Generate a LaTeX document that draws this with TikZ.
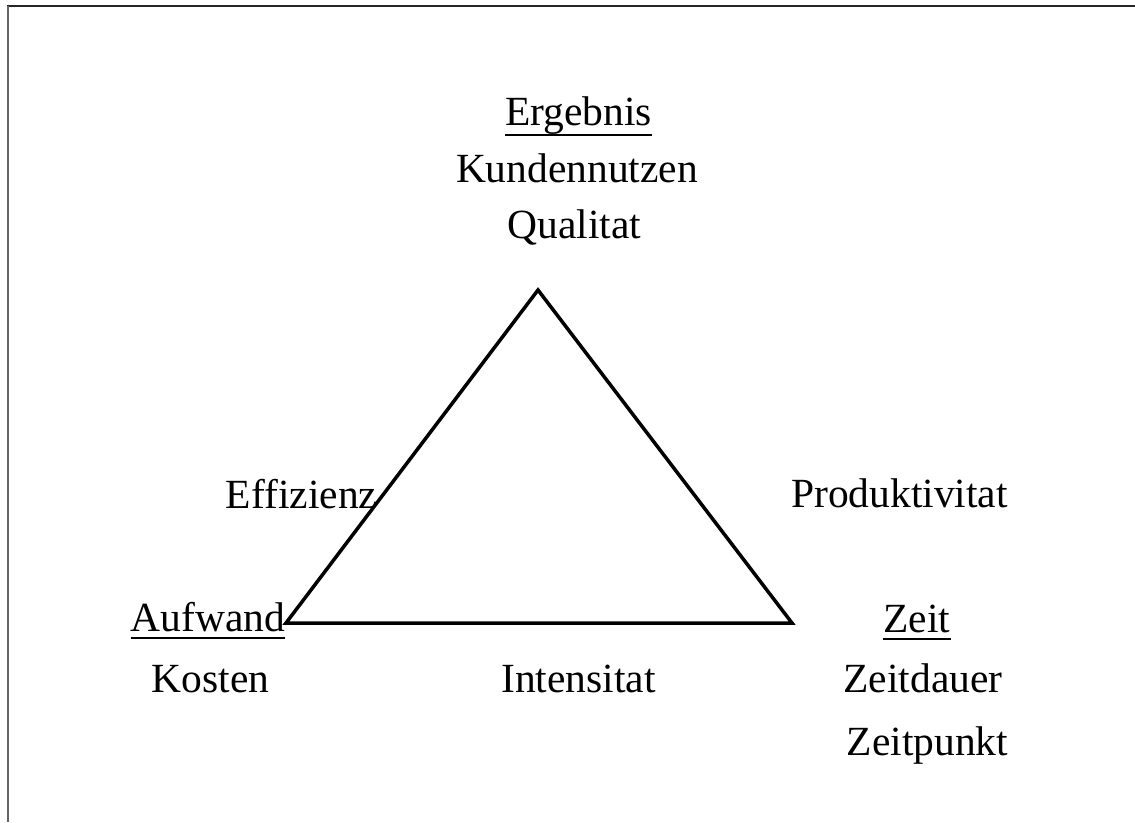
\documentclass[tikz,border=0pt]{standalone}
\usepackage{fontspec}
\setmainfont{Liberation Serif}
\begin{document}
\begin{tikzpicture}[x=1pt, y=-1pt, font=\fontsize{41.5}{50}\selectfont,
    lbl/.style={inner sep=0pt, anchor=base},
    uline/.style={line width=2.8pt}]
  \useasboundingbox (0,0) rectangle (1135,822);
  % frame
  \draw[black!85, line width=2.5pt] (7,6) -- (1135,6);
  \draw[black!60, line width=2.5pt] (8,6) -- (8,822);
  % triangle
  \coordinate (top) at (538,290);
  \coordinate (left) at (286,623);
  \coordinate (right) at (792,623);
  \draw[line width=3.5pt, line join=miter] (top) -- (left) -- (right) -- cycle;
  % corners
  \node[lbl] (erg) at (578.5,125) {Ergebnis};
  \node[lbl] (kund) at (577,182) {Kundennutzen};
  \node[lbl] (qual) at (574.5,238) {Qualitat};
  \node[lbl] (aufw) at (208,631) {Aufwand};
  \node[lbl] (kost) at (210.5,692) {Kosten};
  \node[lbl] (zeit) at (917,632) {Zeit};
  \node[lbl] (zdauer) at (923,692) {Zeitdauer};
  \node[lbl] (zpunkt) at (927.5,755) {Zeitpunkt};
  % sides
  \node[lbl] (eff) at (301.5,508) {Effizienz};
  \node[lbl] (prod) at (899.5,507) {Produktivitat};
  \node[lbl] (int) at (578.5,692) {Intensitat};
  % underlines
  \draw[uline] ([yshift=-10pt]erg.base west) -- ([yshift=-10pt]erg.base east);
  \draw[uline] ([yshift=-7pt]aufw.base west) -- ([yshift=-7pt]aufw.base east);
  \draw[uline] ([yshift=-7pt]zeit.base west) -- ([yshift=-7pt]zeit.base east);
\end{tikzpicture}
\end{document}
